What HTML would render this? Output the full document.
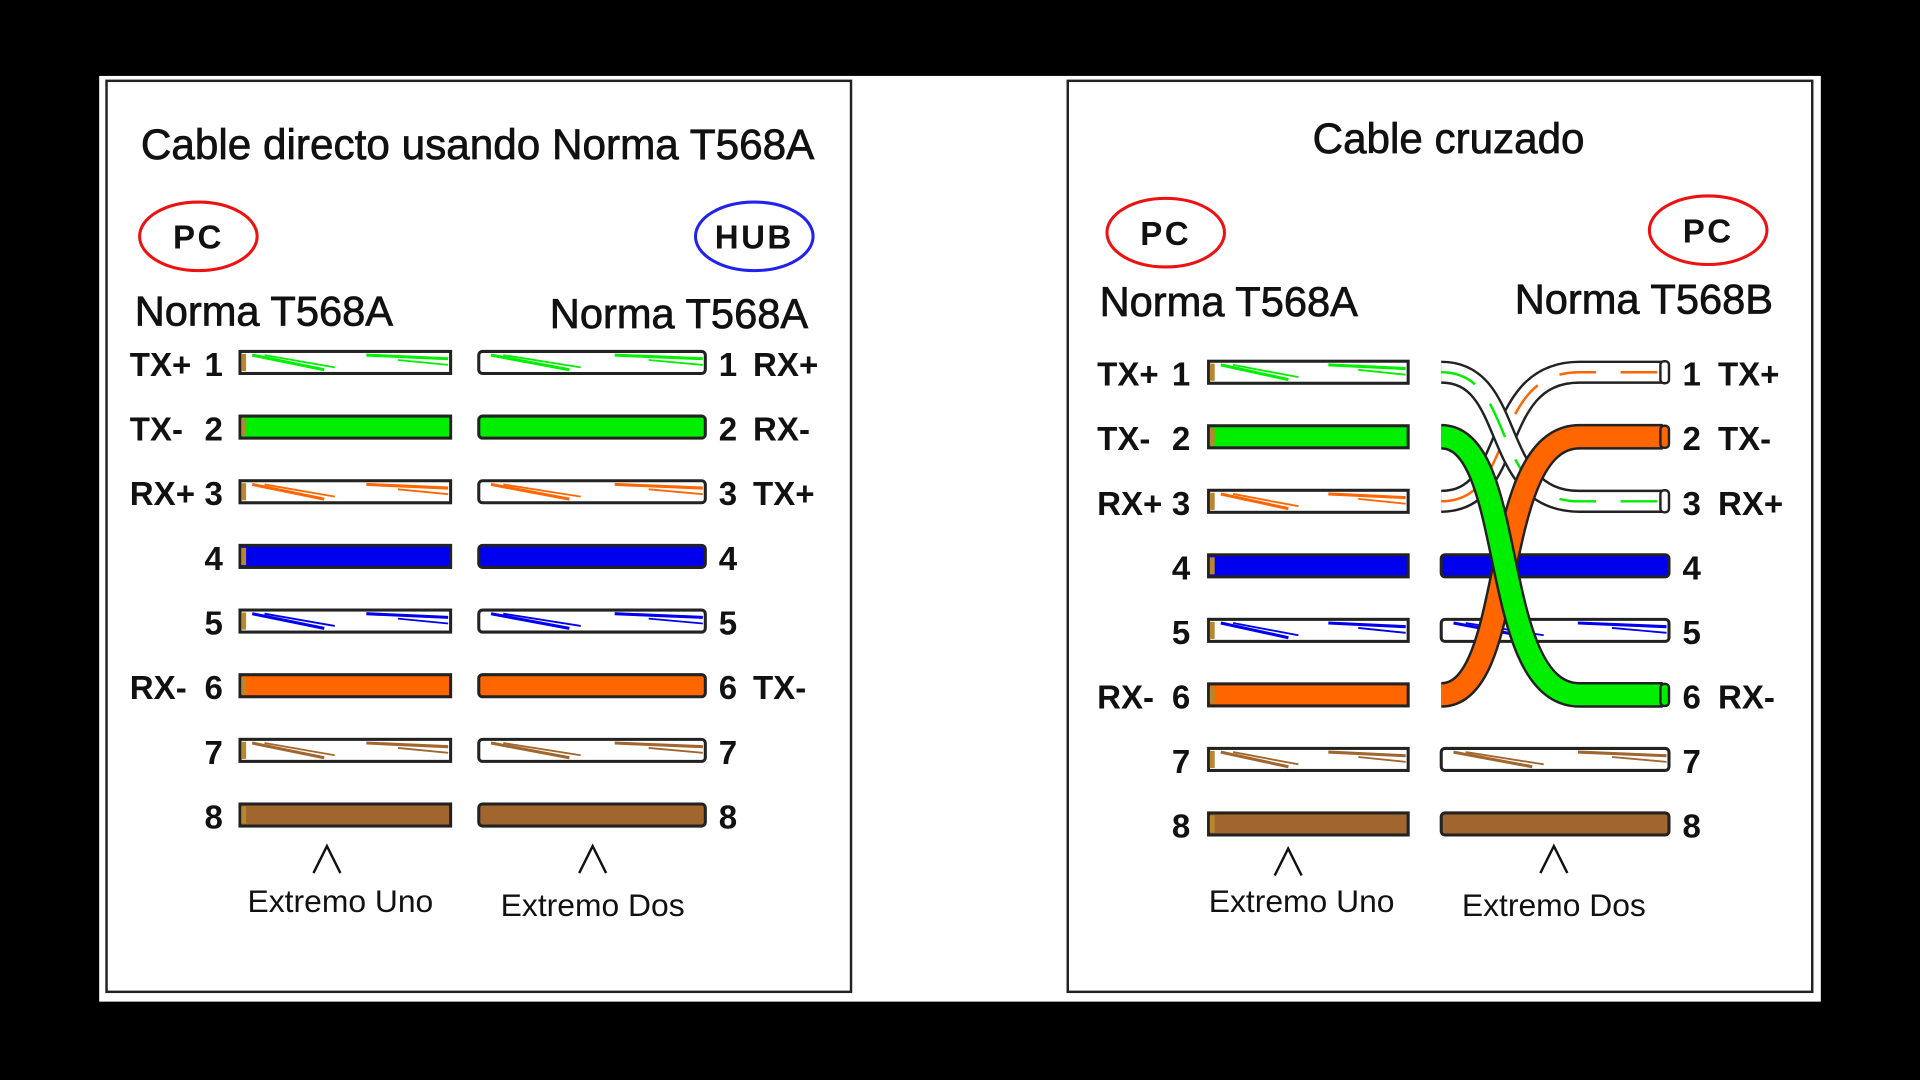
<!DOCTYPE html>
<html><head><meta charset="utf-8"><style>
html,body{margin:0;padding:0;background:#000;width:1920px;height:1080px;overflow:hidden}
svg{display:block}
text{font-family:"Liberation Sans",sans-serif;fill:#111}
</style></head><body>
<svg id="s" width="1920" height="1080" viewBox="0 0 1568 882" xmlns="http://www.w3.org/2000/svg">
<rect x="0" y="0" width="1568" height="882" fill="#000"/>
<rect x="81" y="62" width="1406" height="756" fill="#fff"/>
<rect x="87" y="66" width="608" height="744" fill="#fff" stroke="#222" stroke-width="2"/>
<rect x="872" y="66" width="608" height="744" fill="#fff" stroke="#222" stroke-width="2"/>
<text x="115" y="130" font-size="35" textLength="550" lengthAdjust="spacingAndGlyphs" stroke="#111" stroke-width="0.6">Cable directo usando Norma T568A</text>
<text x="1072" y="125" font-size="35" textLength="222" lengthAdjust="spacingAndGlyphs" stroke="#111" stroke-width="0.6">Cable cruzado</text>
<g id="labels"></g>
<g id="wires"></g>
<g id="cross"></g>
</svg>
<script>
const pins=[1,2,3,4,5,6,7,8];
const wireColors=['g','G','o','B','b','O','n','N']; // lowercase=striped
const colorMap={g:'#00ee00',o:'#ff6600',b:'#0000ee',n:'#a0662e'};
const leftSignals=['TX+','TX-','RX+','','','RX-','',''];
const hubSignals=['RX+','RX-','TX+','','','TX-','',''];
const crossLeftSignals=['TX+','TX-','RX+','','','RX-','',''];
const crossRightSignals=['TX+','TX-','RX+','','','RX-','',''];
const crossBColors=['o','O','g','B','b','G','n','N'];
const NS='http://www.w3.org/2000/svg';
function el(tag,attrs,parent,txt){const e=document.createElementNS(NS,tag);for(const k in attrs)e.setAttribute(k,attrs[k]);if(txt!==undefined)e.textContent=txt;parent.appendChild(e);return e;}
const W=document.getElementById('wires'),L=document.getElementById('labels'),C=document.getElementById('cross');
function wire(x1,x2,yc,c,capLeft){
  const lc=c.toLowerCase(),col=colorMap[lc],striped=(c===lc);
  const g=el('g',{},W);
  
  
  el('rect',{x:x1,y:yc-9,width:x2-x1,height:18,fill:striped?'#fff':col,stroke:'#222','stroke-width':2.5,rx:capLeft?0:3},g);
  if(striped){
    const w=x2-x1;
    el('line',{x1:x1+10,y1:yc-6,x2:x1+w*0.4,y2:yc+6,stroke:col,'stroke-width':2.5},g);
    el('line',{x1:x1+20,y1:yc-6,x2:x1+w*0.45,y2:yc+4,stroke:col,'stroke-width':1.5},g);
    el('line',{x1:x1+w*0.6,y1:yc-6,x2:x2-2,y2:yc-3,stroke:col,'stroke-width':2.5},g);
    el('line',{x1:x1+w*0.75,y1:yc-2,x2:x2-2,y2:yc+2,stroke:col,'stroke-width':1.5},g);
  }
  if(capLeft) el('rect',{x:x1+1,y:yc-7,width:4,height:14,fill:'#b8862e'},g);
}
function label(x,y,t,anchor,name){const e=el('text',{x:x,y:y,'font-size':27,'font-weight':'bold','text-anchor':anchor},L,t);}
function oval(cx,cy,col,t,name){const g=el('g',{},L);el('ellipse',{cx:cx,cy:cy,rx:48,ry:28,fill:'none',stroke:col,'stroke-width':2.5},g);el('text',{x:cx,y:cy+10,'font-size':27,'font-weight':'bold','text-anchor':'middle','letter-spacing':2},g,t);}
function hdr(x,y,t,anchor,name){const e=el('text',{x:x,y:y,'font-size':34,'text-anchor':anchor,stroke:'#111','stroke-width':0.6},L,t);}
// left panel
oval(162,193,'#ee1111','PC','pc-badge-left');
oval(616,193,'#2222ee','HUB','hub-badge');
hdr(110,266,'Norma T568A','start','standard-left-a');
hdr(660,268,'Norma T568A','end','standard-left-b');
const yL0=296,dyL=52.8;
pins.forEach((p,i)=>{const y=yL0+i*dyL;
  wire(196,368,y,wireColors[i],true);wire(391,576,y,wireColors[i],false);
  label(182,y+11,p,'end','pin-left-'+p);label(106,y+11,leftSignals[i],'start','signal-left-'+p);
  label(587,y+11,p,'start','pin-hub-'+p);label(615,y+11,hubSignals[i],'start','signal-hub-'+p);
});
// right panel
oval(952,190,'#ee1111','PC','pc-badge-cross-left');
oval(1395,188,'#ee1111','PC','pc-badge-cross-right');
hdr(898,258,'Norma T568A','start','standard-cross-a');
hdr(1448,256,'Norma T568B','end','standard-cross-b');
const yR0=304,dyR=52.7;
pins.forEach((p,i)=>{const y=yR0+i*dyR;
  wire(987,1150,y,wireColors[i],true);
  if(![0,1,2,5].includes(i)) wire(1177,1363,y,crossBColors[i],false);
  label(972,y+11,p,'end','pin-cross-left-'+p);label(896,y+11,crossLeftSignals[i],'start','signal-cross-left-'+p);
  label(1374,y+11,p,'start','pin-cross-right-'+p);label(1403,y+11,crossRightSignals[i],'start','signal-cross-right-'+p);
});
// crossed pairs: [from row, to row, color, striped]
const crossPairs=[[2,0,'o',true],[0,2,'g',true],[5,1,'O',false],[1,5,'G',false]];
crossPairs.forEach(([a,b,c,st])=>{
  const ya=yR0+a*dyR,yb=yR0+b*dyR,col=colorMap[c.toLowerCase()];
  const d=`M1177 ${ya} C1240 ${ya} 1215 ${yb} 1290 ${yb} L1358 ${yb}`;
  const g=el('g',{},C);
  
  
  el('path',{d:d,fill:'none',stroke:'#222','stroke-width':st?19:21},g);
  el('path',{d:d,fill:'none',stroke:st?'#fff':col,'stroke-width':st?15:17},g);
  if(st) el('path',{d:d,fill:'none',stroke:col,'stroke-width':2,'stroke-dasharray':'30 20'},g);
  el('rect',{x:1356,y:yb-9,width:7,height:18,rx:3,fill:st?'#fff':col,stroke:'#222','stroke-width':2},g);
});
// arrows & end labels
[[267,703,'Extremo Uno',278,745],[484,703,'Extremo Dos',484,748],[1052,705,'Extremo Uno',1063,745],[1269,703,'Extremo Dos',1269,748]].forEach(([ax,ay,t,tx,ty],i)=>{
  const g=el('g',{},L);
  el('path',{d:`M${ax-11} ${ay+10} L${ax} ${ay-12} L${ax+11} ${ay+10}`,fill:'none',stroke:'#111','stroke-width':2},g);
  el('text',{x:tx,y:ty,'font-size':26,'text-anchor':'middle'},g,t);
});
</script>
</body></html>
